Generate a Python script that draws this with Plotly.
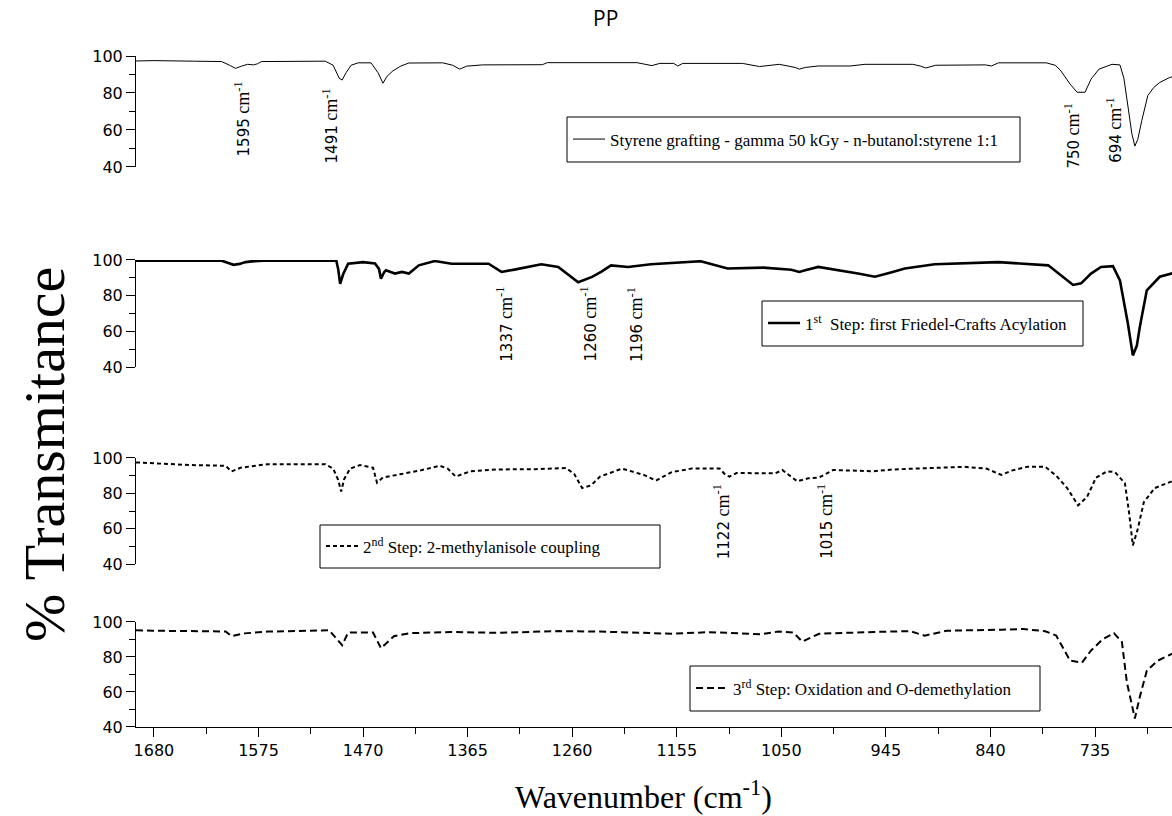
import plotly.graph_objects as go

# ---------------- data (wavenumber cm-1, % transmittance) ----------------
wn1 = [1698, 1680, 1640, 1612, 1604, 1598, 1592, 1586, 1580, 1576, 1572, 1540, 1508, 1500, 1494, 1491, 1487, 1482,
       1475, 1462, 1455, 1450, 1446, 1440, 1432, 1424, 1390, 1380, 1373, 1366, 1350, 1290, 1285, 1195, 1180, 1172,
       1158, 1154, 1149, 1089, 1072, 1052, 1036, 1032, 1026, 1013, 981, 966, 918, 910, 905, 895, 845, 839, 832, 784,
       775, 770, 760, 753, 745, 739, 731, 718, 710, 706, 702, 698, 695, 692, 688, 682, 676, 670, 660, 657]
t1 = [97.3, 97.5, 97.2, 97.0, 95.0, 93.3, 94.5, 95.5, 95.2, 95.8, 97.0, 97.0, 97.2, 95.0, 88.0, 87.0, 91.0, 95.0,
      96.3, 96.3, 91.0, 85.3, 89.0, 92.0, 94.6, 96.2, 96.3, 95.0, 92.9, 94.5, 95.2, 95.3, 96.4, 96.4, 94.8, 96.0,
      96.0, 94.6, 96.0, 96.0, 94.3, 95.5, 93.8, 92.9, 93.8, 94.6, 94.6, 95.5, 95.5, 94.5, 93.5, 95.0, 95.2, 94.6, 96.3, 96.3,
      95.0, 92.5, 84.8, 80.4, 80.4, 87.5, 92.9, 95.5, 95.2, 88.0, 72.3, 58.0, 51.3, 55.0, 65.2, 78.6, 83.0, 85.7, 88.4, 88.8]

wn2 = [1698, 1612, 1606, 1600, 1594, 1588, 1582, 1570, 1500, 1497, 1495, 1493, 1490, 1485, 1470, 1458, 1454, 1452,
       1449, 1447, 1438, 1431, 1424, 1414, 1398, 1381, 1344, 1331, 1318, 1291, 1274, 1254, 1240, 1231, 1221, 1204,
       1181, 1131, 1104, 1068, 1040, 1032, 1026, 1013, 973, 956, 940, 926, 896, 832, 782, 769, 757, 749, 739, 729,
       717, 710, 702, 697, 693, 690, 683, 670, 660, 657]
t2 = [99.6, 99.6, 98.5, 97.3, 97.8, 98.8, 99.2, 99.6, 99.6, 100.0, 95.0, 86.6, 92.0, 97.9, 98.8, 98.0, 95.0, 89.5,
      93.0, 94.2, 92.4, 93.3, 92.4, 97.0, 99.4, 97.9, 97.9, 93.3, 94.6, 97.6, 96.1, 87.5, 90.5, 93.3, 97.0, 96.1,
      97.6, 99.3, 95.2, 95.7, 94.5, 93.3, 94.2, 96.1, 92.4, 90.6, 93.0, 95.2, 97.6, 98.8, 97.0, 91.5, 86.0, 86.9, 92.4, 96.1,
      96.5, 88.6, 64.4, 46.5, 52.0, 62.5, 83.0, 90.6, 92.4, 92.6]

wn3 = [1698, 1660, 1643, 1608, 1602, 1593, 1566, 1508, 1500, 1495, 1492, 1489, 1483, 1473, 1460, 1456, 1450, 1431,
       1412, 1393, 1385, 1377, 1362, 1335, 1297, 1266, 1258, 1250, 1241, 1232, 1210, 1188, 1176, 1160, 1140, 1112,
       1106, 1102, 1095, 1056, 1049, 1034, 1023, 1012, 998, 957, 939, 866, 844, 829, 818, 803, 785, 774, 763, 752,
       743, 734, 723, 715, 705, 701, 697, 692, 686, 675, 657]
t3 = [97.5, 96.5, 96.0, 95.6, 92.4, 94.5, 96.5, 96.5, 94.0, 87.6, 81.0, 88.0, 94.0, 96.0, 94.5, 86.0, 89.0, 91.0,
      93.0, 95.6, 94.0, 89.5, 92.5, 93.5, 93.7, 94.3, 91.0, 83.0, 84.5, 89.5, 94.0, 90.4, 87.2, 92.0, 94.0, 94.0,
      90.4, 89.5, 91.5, 91.3, 93.2, 86.8, 88.5, 89.0, 93.2, 92.5, 93.5, 95.0, 94.0, 90.4, 93.0, 95.0, 95.0, 90.0, 83.0, 73.2,
      78.0, 88.9, 92.5, 92.0, 85.7, 70.0, 50.5, 60.0, 75.0, 83.0, 87.0]

wn4 = [1698, 1681, 1608, 1602, 1589, 1566, 1504, 1496, 1491, 1485, 1460, 1452, 1439, 1423, 1381, 1335, 1274, 1232,
       1159, 1122, 1071, 1053, 1038, 1029, 1012, 957, 921, 906, 884, 829, 807, 785, 774, 760, 748, 739, 727, 716,
       708, 703, 695, 690, 683, 672, 657]
t4 = [95.3, 95.0, 94.6, 91.9, 93.5, 94.5, 95.3, 90.0, 86.7, 94.0, 94.0, 85.0, 91.9, 93.6, 94.3, 93.8, 94.8, 94.5,
      93.3, 94.2, 93.0, 94.5, 94.0, 88.8, 93.3, 94.3, 94.8, 92.2, 95.0, 95.6, 96.0, 94.7, 92.3, 77.9, 76.8, 83.7, 90.3, 93.6,
      88.6, 65.5, 44.9, 57.3, 72.1, 77.9, 82.0]

series_names = [
    "Styrene grafting - gamma 50 kGy - n-butanol:styrene 1:1",
    "1<sup>st</sup>  Step: first Friedel-Crafts Acylation",
    "2<sup>nd</sup> Step: 2-methylanisole coupling",
    "3<sup>rd</sup> Step: Oxidation and O-demethylation",
]

x_ticks = [1680, 1575, 1470, 1365, 1260, 1155, 1050, 945, 840, 735]
y_ticks = [40, 60, 80, 100]

# peak labels: (panel, wavenumber, label y value)
peak_panel = [1, 1, 1, 1, 2, 2, 2, 3, 3]
peak_wn = [1595, 1491, 750, 694, 1337, 1260, 1196, 1122, 1015]
peak_y = [66, 62, 57, 60, 64, 64, 64, 64, 64]
peak_shift = [4, -12, -8, -21, 9, 16, -1, 12, 9]

# ---------------- figure ----------------
W, H = 1172, 816
ML, MR, MT, MB = 136, 0, 56, 89
PW, PH = W - ML - MR, H - MT - MB


def px(xp):
    return (xp - ML) / PW


def py(yp):
    return (H - MB - yp) / PH


domains = [[0.8346, 1.0], [0.5365, 0.696], [0.2429, 0.4009], [0.0, 0.1565]]
styles = [dict(width=1, dash="solid"), dict(width=2.6, dash="solid"),
          dict(width=2, dash="4px,3px"), dict(width=2, dash="7px,4px")]
data = [(wn1, t1), (wn2, t2), (wn3, t3), (wn4, t4)]
leg_boxes = [(567, 1020, 117, 162), (762, 1083, 301, 346), (320, 660, 525, 568), (690, 1040, 666, 711)]

fig = go.Figure()
for i, (wn, t) in enumerate(data):
    k = i + 1
    fig.add_trace(go.Scatter(
        x=wn, y=t, mode="lines", name=series_names[i],
        line=dict(color="black", width=styles[i]["width"], dash=styles[i]["dash"]),
        xaxis=f"x{k}", yaxis=f"y{k}", legend="legend" if k == 1 else f"legend{k}",
        showlegend=True,
    ))

xr = [1698, 657.7]
layout = dict(
    width=W, height=H, margin=dict(l=ML, r=MR, t=MT, b=MB),
    plot_bgcolor="white", paper_bgcolor="white", showlegend=True,
    font=dict(family="DejaVu Sans", color="black"),
)
for i in range(4):
    k = i + 1
    xa = dict(range=xr, anchor=f"y{k}", showgrid=False, zeroline=False)
    if k == 4:
        xa.update(showline=True, linecolor="black", linewidth=1, ticks="outside", ticklen=9,
                  tickcolor="black", tickvals=x_ticks, ticktext=[str(v) for v in x_ticks],
                  tickfont=dict(family="DejaVu Sans", size=16, color="black"),
                  minor=dict(tickvals=[v - 52.5 for v in x_ticks] + [x_ticks[0] + 52.5],
                             ticks="outside", ticklen=6, tickcolor="black"))
    else:
        xa.update(matches="x4", visible=False)
    layout[f"xaxis{k}"] = xa
    layout[f"yaxis{k}"] = dict(
        domain=domains[i], anchor=f"x{k}", range=[40, 100], showgrid=False, zeroline=False,
        showline=True, linecolor="black", linewidth=1, ticks="outside", ticklen=9, tickcolor="black",
        tickvals=y_ticks, tickfont=dict(family="DejaVu Sans", size=16, color="black"),
        minor=dict(dtick=10, ticks="outside", ticklen=6, tickcolor="black"),
    )

shapes = []
for i, (x0, x1, y0, y1) in enumerate(leg_boxes):
    k = i + 1
    shapes.append(dict(type="rect", xref="paper", yref="paper", x0=px(x0), x1=px(x1), y0=py(y1), y1=py(y0),
                       line=dict(color="black", width=1), fillcolor="rgba(0,0,0,0)"))
    layout["legend" if k == 1 else f"legend{k}"] = dict(
        x=px(x0 + 1), y=py((y0 + y1) / 2), xanchor="left", yanchor="middle",
        bgcolor="rgba(0,0,0,0)", borderwidth=0, itemwidth=32,
        font=dict(family="Liberation Serif", size=17, color="black"),
    )
layout["shapes"] = shapes

ann = []
for p, w, yv, sh in zip(peak_panel, peak_wn, peak_y, peak_shift):
    txt = (f"<span style='font-family:DejaVu Sans;font-size:15px'>{w}</span> cm<sup>-1</sup>")
    ann.append(dict(x=w, y=yv, xref=f"x{p}", yref=f"y{p}", text=txt, textangle=-90,
                    showarrow=False, xshift=sh, xanchor="center", yanchor="middle",
                    font=dict(family="Liberation Serif", size=18, color="black")))
ann.append(dict(x=px(605), y=py(18), xref="paper", yref="paper", text="PP", showarrow=False,
                xanchor="center", yanchor="middle",
                font=dict(family="Open Sans", size=21, color="black")))
ann.append(dict(x=px(44), y=py(455), xref="paper", yref="paper", text="% Transmitance", textangle=-90,
                showarrow=False, xanchor="center", yanchor="middle",
                font=dict(family="Liberation Serif", size=58, color="black")))
ann.append(dict(x=px(643), y=py(795), xref="paper", yref="paper", text="Wavenumber (cm<sup>-1</sup>)",
                showarrow=False, xanchor="center", yanchor="middle",
                font=dict(family="Liberation Serif", size=32, color="black")))
layout["annotations"] = ann

fig.update_layout(**layout)
fig.write_html("out.html")
